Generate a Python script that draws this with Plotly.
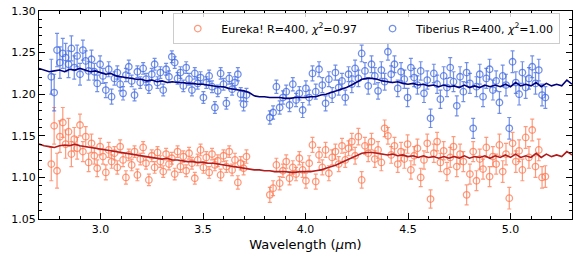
import plotly.graph_objects as go

# ---- data bins (micron) ----
wl = [2.760, 2.774, 2.788, 2.802, 2.816, 2.830, 2.844, 2.858, 2.872, 2.886,
      2.900, 2.914, 2.928, 2.942, 2.956, 2.970, 2.984, 2.998, 3.012, 3.026,
      3.040, 3.054, 3.068, 3.082, 3.096, 3.110, 3.124, 3.138, 3.152, 3.166,
      3.180, 3.194, 3.208, 3.222, 3.236, 3.250, 3.264, 3.278, 3.292, 3.306,
      3.320, 3.334, 3.348, 3.362, 3.376, 3.390, 3.404, 3.418, 3.432, 3.446,
      3.460, 3.474, 3.488, 3.502, 3.516, 3.530, 3.544, 3.558, 3.572, 3.586,
      3.600, 3.614, 3.628, 3.642, 3.656, 3.670, 3.684, 3.698, 3.712,
      3.826, 3.842, 3.858, 3.874, 3.890, 3.906, 3.922, 3.938, 3.954, 3.970,
      3.986, 4.002, 4.018, 4.034, 4.050, 4.066, 4.082, 4.098, 4.114, 4.130,
      4.146, 4.162, 4.178, 4.194, 4.210, 4.226, 4.242, 4.258, 4.274, 4.290,
      4.306, 4.322, 4.338, 4.354, 4.370, 4.386, 4.402, 4.418, 4.434, 4.450,
      4.466, 4.482, 4.498, 4.514, 4.530, 4.546, 4.562, 4.578, 4.594, 4.610,
      4.626, 4.642, 4.658, 4.674, 4.690, 4.706, 4.722, 4.738, 4.754, 4.770,
      4.786, 4.802, 4.818, 4.834, 4.850, 4.866, 4.882, 4.898, 4.914, 4.930,
      4.946, 4.962, 4.978, 4.994, 5.010, 5.026, 5.042, 5.058, 5.074, 5.090,
      5.106, 5.122, 5.138, 5.154, 5.170]

tiberius = [1.221, 1.202, 1.253, 1.238, 1.249, 1.244, 1.236, 1.255, 1.232, 1.246,
            1.224, 1.253, 1.240, 1.228, 1.242, 1.227, 1.213, 1.236, 1.222, 1.205,
            1.230, 1.197, 1.219, 1.226, 1.212, 1.201, 1.223, 1.233, 1.216, 1.199,
            1.227, 1.214, 1.231, 1.218, 1.208, 1.224, 1.236, 1.214, 1.226, 1.205,
            1.230, 1.221, 1.245, 1.238, 1.219, 1.226, 1.210, 1.232, 1.218, 1.205,
            1.225, 1.213, 1.220, 1.196, 1.214, 1.222, 1.209, 1.184, 1.204, 1.225,
            1.212, 1.189, 1.219, 1.206, 1.214, 1.224, 1.200, 1.188, 1.199,
            1.172, 1.178, 1.209, 1.184, 1.196, 1.203, 1.187, 1.212, 1.193, 1.201,
            1.181, 1.207, 1.196, 1.225, 1.203, 1.230, 1.211, 1.189, 1.218, 1.199,
            1.226, 1.208, 1.216, 1.196, 1.224, 1.212, 1.231, 1.219, 1.249, 1.228,
            1.210, 1.236, 1.222, 1.204, 1.229, 1.215, 1.251, 1.224, 1.236, 1.207,
            1.227, 1.218, 1.196, 1.232, 1.220, 1.211, 1.228, 1.201, 1.217, 1.171,
            1.225, 1.212, 1.194, 1.222, 1.208, 1.232, 1.215, 1.186, 1.221, 1.203,
            1.226, 1.213, 1.159, 1.209, 1.224, 1.197, 1.219, 1.230, 1.205, 1.216,
            1.190, 1.222, 1.211, 1.159, 1.239, 1.214, 1.200, 1.226, 1.208, 1.219,
            1.233, 1.213, 1.229, 1.199, 1.196]

tiberius_err = [0.021, 0.022, 0.020, 0.019, 0.018, 0.017, 0.016, 0.015, 0.014, 0.013,
                0.013, 0.012, 0.012, 0.011, 0.011, 0.010, 0.010, 0.010, 0.009, 0.009,
                0.009, 0.009, 0.008, 0.008, 0.008, 0.008, 0.008, 0.008, 0.007, 0.007,
                0.007, 0.007, 0.007, 0.007, 0.007, 0.007, 0.007, 0.007, 0.007, 0.007,
                0.007, 0.007, 0.007, 0.007, 0.007, 0.007, 0.007, 0.007, 0.007, 0.007,
                0.007, 0.007, 0.007, 0.007, 0.007, 0.007, 0.007, 0.007, 0.007, 0.007,
                0.007, 0.007, 0.007, 0.007, 0.007, 0.008, 0.008, 0.008, 0.008,
                0.008, 0.008, 0.008, 0.008, 0.008, 0.008, 0.008, 0.008, 0.008, 0.008,
                0.009, 0.009, 0.009, 0.009, 0.009, 0.009, 0.009, 0.009, 0.009, 0.009,
                0.009, 0.009, 0.009, 0.009, 0.009, 0.010, 0.010, 0.010, 0.010, 0.010,
                0.010, 0.010, 0.010, 0.010, 0.010, 0.010, 0.010, 0.010, 0.010, 0.010,
                0.011, 0.011, 0.011, 0.011, 0.011, 0.011, 0.011, 0.011, 0.011, 0.011,
                0.011, 0.011, 0.011, 0.011, 0.011, 0.012, 0.012, 0.012, 0.012, 0.012,
                0.012, 0.012, 0.012, 0.012, 0.012, 0.012, 0.012, 0.012, 0.012, 0.012,
                0.013, 0.013, 0.013, 0.013, 0.013, 0.013, 0.013, 0.013, 0.013, 0.013,
                0.013, 0.013, 0.013, 0.013, 0.013]

eureka = [1.116, 1.162, 1.108, 1.149, 1.166, 1.140, 1.155, 1.128, 1.146, 1.135,
          1.163, 1.131, 1.149, 1.118, 1.141, 1.126, 1.111, 1.137, 1.125, 1.106,
          1.133, 1.119, 1.129, 1.112, 1.137, 1.121, 1.100, 1.127, 1.115, 1.131,
          1.103, 1.122, 1.136, 1.117, 1.097, 1.126, 1.112, 1.130, 1.119, 1.107,
          1.128, 1.116, 1.123, 1.104, 1.131, 1.113, 1.125, 1.108, 1.129, 1.117,
          1.099, 1.121, 1.133, 1.112, 1.124, 1.106, 1.128, 1.115, 1.120, 1.103,
          1.126, 1.113, 1.131, 1.109, 1.121, 1.094, 1.117, 1.111, 1.125,
          1.079, 1.087, 1.115, 1.093, 1.108, 1.119, 1.099, 1.112, 1.104, 1.123,
          1.109, 1.096, 1.117, 1.139, 1.095, 1.127, 1.112, 1.133, 1.105, 1.124,
          1.131, 1.116, 1.138, 1.121, 1.135, 1.143, 1.126, 1.149, 1.097, 1.138,
          1.129, 1.143, 1.122, 1.133, 1.118, 1.159, 1.150, 1.127, 1.138, 1.116,
          1.131, 1.122, 1.140, 1.109, 1.126, 1.135, 1.100, 1.121, 1.141, 1.074,
          1.129, 1.143, 1.118, 1.132, 1.107, 1.124, 1.137, 1.113, 1.128, 1.119,
          1.079, 1.104, 1.131, 1.096, 1.122, 1.110, 1.136, 1.101, 1.125, 1.116,
          1.139, 1.107, 1.128, 1.075, 1.141, 1.119, 1.132, 1.109, 1.148, 1.124,
          1.157, 1.113, 1.133, 1.100, 1.101]

eureka_err = [0.020, 0.022, 0.021, 0.019, 0.018, 0.017, 0.016, 0.015, 0.014, 0.013,
              0.013, 0.012, 0.012, 0.011, 0.011, 0.010, 0.010, 0.010, 0.009, 0.009,
              0.009, 0.008, 0.008, 0.008, 0.008, 0.008, 0.008, 0.007, 0.007, 0.007,
              0.007, 0.007, 0.007, 0.007, 0.007, 0.007, 0.007, 0.007, 0.007, 0.007,
              0.007, 0.007, 0.007, 0.007, 0.007, 0.007, 0.007, 0.007, 0.007, 0.007,
              0.007, 0.007, 0.007, 0.007, 0.007, 0.007, 0.007, 0.007, 0.007, 0.007,
              0.007, 0.007, 0.007, 0.007, 0.008, 0.008, 0.008, 0.008, 0.008,
              0.009, 0.009, 0.008, 0.008, 0.008, 0.008, 0.008, 0.008, 0.008, 0.008,
              0.009, 0.009, 0.009, 0.009, 0.009, 0.009, 0.009, 0.009, 0.009, 0.009,
              0.009, 0.009, 0.009, 0.009, 0.009, 0.010, 0.010, 0.010, 0.010, 0.010,
              0.010, 0.010, 0.010, 0.010, 0.010, 0.010, 0.010, 0.010, 0.010, 0.010,
              0.011, 0.011, 0.011, 0.011, 0.011, 0.011, 0.011, 0.011, 0.011, 0.011,
              0.011, 0.011, 0.011, 0.011, 0.011, 0.012, 0.012, 0.012, 0.012, 0.012,
              0.012, 0.012, 0.012, 0.012, 0.012, 0.012, 0.012, 0.012, 0.012, 0.012,
              0.013, 0.013, 0.013, 0.013, 0.013, 0.013, 0.013, 0.013, 0.013, 0.013,
              0.013, 0.013, 0.013, 0.013, 0.013]

# ---- best-fit model curves ----
model_wl = [2.700, 2.725, 2.750, 2.775, 2.800, 2.825, 2.850, 2.875, 2.900, 2.925,
            2.950, 2.975, 3.000, 3.025, 3.050, 3.075, 3.100, 3.125, 3.150, 3.175,
            3.200, 3.225, 3.250, 3.275, 3.300, 3.325, 3.350, 3.375, 3.400, 3.425,
            3.450, 3.475, 3.500, 3.525, 3.550, 3.575, 3.600, 3.625, 3.650, 3.675,
            3.700, 3.725, 3.750, 3.775, 3.800, 3.825, 3.850, 3.875, 3.900, 3.925,
            3.950, 3.975, 4.000, 4.025, 4.050, 4.075, 4.100, 4.125, 4.150, 4.175,
            4.200, 4.225, 4.250, 4.275, 4.300, 4.325, 4.350, 4.375, 4.400, 4.425,
            4.450, 4.475, 4.500, 4.525, 4.550, 4.575, 4.600, 4.625, 4.650, 4.675,
            4.700, 4.725, 4.750, 4.775, 4.800, 4.825, 4.850, 4.875, 4.900, 4.925,
            4.950, 4.975, 5.000, 5.025, 5.050, 5.075, 5.100, 5.125, 5.150, 5.175,
            5.200, 5.225, 5.250, 5.275, 5.300]

tiberius_model = [1.231, 1.229, 1.227, 1.228, 1.229, 1.227, 1.230, 1.229, 1.231, 1.229,
                  1.227, 1.228, 1.226, 1.224, 1.225, 1.222, 1.221, 1.220, 1.219, 1.218,
                  1.218, 1.216, 1.217, 1.215, 1.216, 1.214, 1.215, 1.214, 1.214, 1.213,
                  1.213, 1.212, 1.212, 1.211, 1.210, 1.209, 1.209, 1.207, 1.206, 1.205,
                  1.204, 1.202, 1.198, 1.197, 1.197, 1.196, 1.196, 1.196, 1.195, 1.195,
                  1.196, 1.196, 1.196, 1.197, 1.197, 1.199, 1.200, 1.202, 1.204, 1.206,
                  1.208, 1.211, 1.215, 1.218, 1.219, 1.219, 1.218, 1.216, 1.215, 1.214,
                  1.215, 1.213, 1.212, 1.213, 1.211, 1.212, 1.210, 1.211, 1.209, 1.211,
                  1.209, 1.210, 1.208, 1.211, 1.208, 1.210, 1.208, 1.211, 1.209, 1.211,
                  1.209, 1.212, 1.209, 1.214, 1.210, 1.212, 1.210, 1.214, 1.209, 1.213,
                  1.210, 1.212, 1.210, 1.217, 1.212]

eureka_model = [1.140, 1.138, 1.137, 1.136, 1.138, 1.139, 1.138, 1.140, 1.138, 1.137,
                1.136, 1.135, 1.134, 1.133, 1.132, 1.131, 1.130, 1.129, 1.128, 1.127,
                1.126, 1.125, 1.124, 1.123, 1.122, 1.123, 1.121, 1.121, 1.120, 1.119,
                1.119, 1.118, 1.118, 1.117, 1.117, 1.116, 1.115, 1.114, 1.113, 1.112,
                1.111, 1.110, 1.109, 1.109, 1.108, 1.108, 1.107, 1.107, 1.107, 1.106,
                1.106, 1.107, 1.107, 1.107, 1.108, 1.109, 1.111, 1.113, 1.115, 1.118,
                1.121, 1.124, 1.127, 1.129, 1.130, 1.130, 1.129, 1.128, 1.127, 1.128,
                1.126, 1.127, 1.125, 1.126, 1.124, 1.126, 1.124, 1.125, 1.123, 1.125,
                1.123, 1.125, 1.123, 1.126, 1.123, 1.125, 1.124, 1.126, 1.123, 1.126,
                1.124, 1.127, 1.124, 1.128, 1.124, 1.126, 1.124, 1.129, 1.124, 1.128,
                1.125, 1.127, 1.125, 1.131, 1.127]

x_ticks = [3.0, 3.5, 4.0, 4.5, 5.0]
y_ticks = [1.05, 1.10, 1.15, 1.20, 1.25, 1.30]

BLUE = "rgba(65,105,225,0.75)"
RED = "rgba(255,120,80,0.75)"

fig = go.Figure()
fig.add_trace(go.Scatter(
    x=wl, y=eureka, mode="markers",
    name="Eureka! R=400, <i>χ</i><sup>2</sup>=0.97\u00a0\u00a0",
    marker=dict(symbol="circle-open", size=6.5, color=RED, line=dict(width=1.3, color=RED)),
    error_y=dict(type="data", array=eureka_err, color=RED, thickness=1.2, width=2),
))
fig.add_trace(go.Scatter(
    x=wl, y=tiberius, mode="markers",
    name="Tiberius R=400, <i>χ</i><sup>2</sup>=1.00",
    marker=dict(symbol="circle-open", size=6.5, color=BLUE, line=dict(width=1.3, color=BLUE)),
    error_y=dict(type="data", array=tiberius_err, color=BLUE, thickness=1.2, width=2),
))
fig.add_trace(go.Scatter(x=model_wl, y=eureka_model, mode="lines", showlegend=False,
                         line=dict(color="#b01c1c", width=1.6)))
fig.add_trace(go.Scatter(x=model_wl, y=tiberius_model, mode="lines", showlegend=False,
                         line=dict(color="#00007a", width=1.6)))

axis_common = dict(showline=True, linecolor="black", linewidth=1, mirror="allticks",
                   ticks="inside", ticklen=6, tickwidth=1, tickcolor="black",
                   showgrid=False, zeroline=False, automargin=False,
                   tickfont=dict(family="DejaVu Sans", size=11, color="black"))

fig.update_xaxes(range=[2.70, 5.30], tickvals=x_ticks, ticktext=[f"{v:.1f}" for v in x_ticks],
                 minor=dict(ticks="inside", dtick=0.1, tick0=2.7, ticklen=3, tickcolor="black", showgrid=False),
                 title=dict(text="Wavelength (<i>μ</i>m)", font=dict(family="DejaVu Sans", size=13, color="black"),
                            standoff=4),
                 **axis_common)
fig.update_yaxes(range=[1.05, 1.30], tickvals=y_ticks, ticktext=[f"{v:.2f}" for v in y_ticks],
                 minor=dict(ticks="inside", dtick=0.01, tick0=1.05, ticklen=3, tickcolor="black", showgrid=False),
                 **axis_common)

fig.update_layout(
    width=583, height=261,
    margin=dict(l=39, r=11, t=11, b=42),
    paper_bgcolor="white", plot_bgcolor="white",
    font=dict(family="DejaVu Sans", size=11, color="black"),
    legend=dict(orientation="h", x=0.978, y=0.99, xanchor="right", yanchor="top",
                bgcolor="rgba(255,255,255,0.8)", bordercolor="#cccccc", borderwidth=1,
                font=dict(family="DejaVu Sans", size=11, color="black"),
                itemwidth=37, tracegroupgap=0),
)

# remove the browser's default 8px body margin so the figure fills the window exactly
fig.write_html("out.html", config={"displayModeBar": False},
               post_script="document.body.style.margin='0px';")
